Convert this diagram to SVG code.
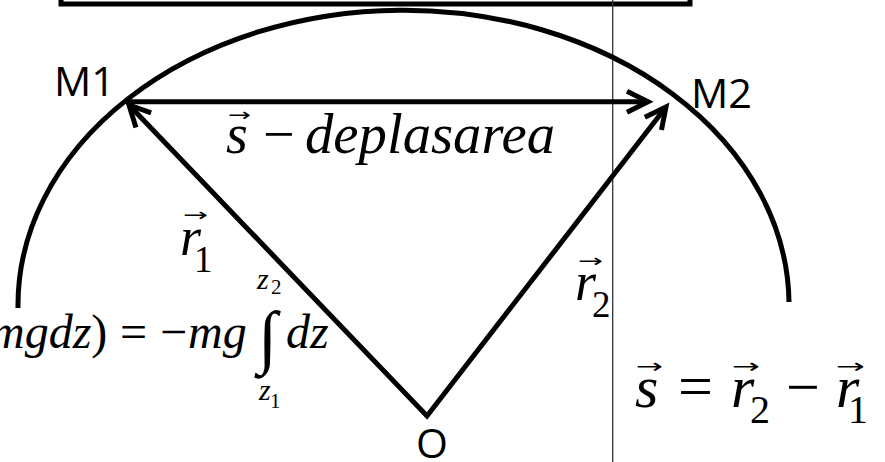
<svg xmlns="http://www.w3.org/2000/svg" width="885" height="462" viewBox="0 0 885 462">
  <style>
    .shape { fill: none; stroke: #000; stroke-width: 5; }
    .math { font-family: "Liberation Serif", "Times New Roman", serif; font-style: italic; fill: #000; }
    .up { font-style: normal; }
    .vec { font-family: "DejaVu Sans", sans-serif; font-style: normal; fill: #000; }
    .lbl { font-family: "Open Sans", "Liberation Sans", sans-serif; font-size: 41px; fill: #000; }
  </style>
  <defs>
    <marker id="open-arrow" markerUnits="userSpaceOnUse" markerWidth="40" markerHeight="40" viewBox="-30 -15 40 30" refX="0" refY="0" orient="auto-start-reverse" overflow="visible">
      <path d="M-21,-10.5 L0,0 L-21,10.5" fill="none" stroke="#000" stroke-width="5" stroke-linejoin="miter" stroke-miterlimit="10"/>
    </marker>
  </defs>
  <rect width="885" height="462" fill="#fff"/>

  <g id="top-box">
    <rect class="shape" x="61" y="-40" width="629" height="44"/>
  </g>

  <g id="divider">
    <line x1="612.7" y1="0" x2="612.7" y2="462" stroke="#333" stroke-width="1.3"/>
  </g>

  <g id="trajectory">
    <path class="shape" d="M18,308 A385.5,295 0 0 1 789,302"/>
  </g>

  <g id="connectors">
    <path id="displacement" class="shape" d="M126,101.7 L648,101.7" marker-end="url(#open-arrow)"/>
    <path id="position-vectors" class="shape" stroke-linejoin="miter" d="M129,105 L427,416 L666,107" marker-start="url(#open-arrow)" marker-end="url(#open-arrow)"/>
  </g>

  <g id="node-M1">
    <text class="lbl" x="54" y="96" textLength="61" lengthAdjust="spacingAndGlyphs">M1</text>
  </g>
  <g id="node-M2">
    <text class="lbl" x="691" y="108" textLength="61" lengthAdjust="spacingAndGlyphs">M2</text>
  </g>
  <g id="node-O">
    <text class="lbl" x="416" y="458">O</text>
  </g>

  <g id="label-s-deplasarea">
    <text class="vec" x="228" y="121" font-size="18" textLength="23" lengthAdjust="spacingAndGlyphs">→</text>
    <text class="math" x="226" y="153" font-size="56">s</text>
    <text class="math up" x="263" y="153" font-size="56">−</text>
    <text class="math" x="305" y="153" font-size="56" textLength="250" lengthAdjust="spacingAndGlyphs">deplasarea</text>
  </g>

  <g id="label-r1">
    <text class="vec" x="183" y="221" font-size="18" textLength="25" lengthAdjust="spacingAndGlyphs">→</text>
    <text class="math" x="180" y="255" font-size="54">r</text>
    <text class="math up" x="194" y="272" font-size="37">1</text>
  </g>

  <g id="label-r2">
    <text class="vec" x="578" y="267" font-size="18" textLength="25" lengthAdjust="spacingAndGlyphs">→</text>
    <text class="math" x="575" y="300" font-size="54">r</text>
    <text class="math up" x="592" y="317" font-size="37">2</text>
  </g>

  <g id="equation-work">
    <text class="math" x="-10" y="348" font-size="48">mgdz<tspan class="up">)</tspan></text>
    <text class="math up" x="120" y="348" font-size="48">=</text>
    <text class="math up" x="160" y="348" font-size="48">−</text>
    <text class="math" x="188" y="348" font-size="48">mg</text>
    <text class="math up" x="258" y="360" font-size="70">∫</text>
    <text class="math" x="286" y="348" font-size="48">dz</text>
    <text class="math" x="257" y="289" font-size="30">z</text>
    <text class="math up" x="271" y="294" font-size="21">2</text>
    <text class="math" x="259" y="400" font-size="30">z</text>
    <text class="math up" x="270" y="408" font-size="21">1</text>
  </g>

  <g id="equation-displacement">
    <text class="vec" x="636" y="373" font-size="20" textLength="27" lengthAdjust="spacingAndGlyphs">→</text>
    <text class="math" x="635" y="407" font-size="60">s</text>
    <text class="math up" x="678" y="407" font-size="62">=</text>
    <text class="vec" x="732" y="373" font-size="20" textLength="28" lengthAdjust="spacingAndGlyphs">→</text>
    <text class="math" x="731" y="407" font-size="60">r</text>
    <text class="math up" x="750" y="423" font-size="40">2</text>
    <text class="math up" x="786" y="407" font-size="60">−</text>
    <text class="vec" x="836" y="373" font-size="20" textLength="29" lengthAdjust="spacingAndGlyphs">→</text>
    <text class="math" x="836" y="407" font-size="60">r</text>
    <text class="math up" x="848" y="423" font-size="40">1</text>
  </g>
</svg>
